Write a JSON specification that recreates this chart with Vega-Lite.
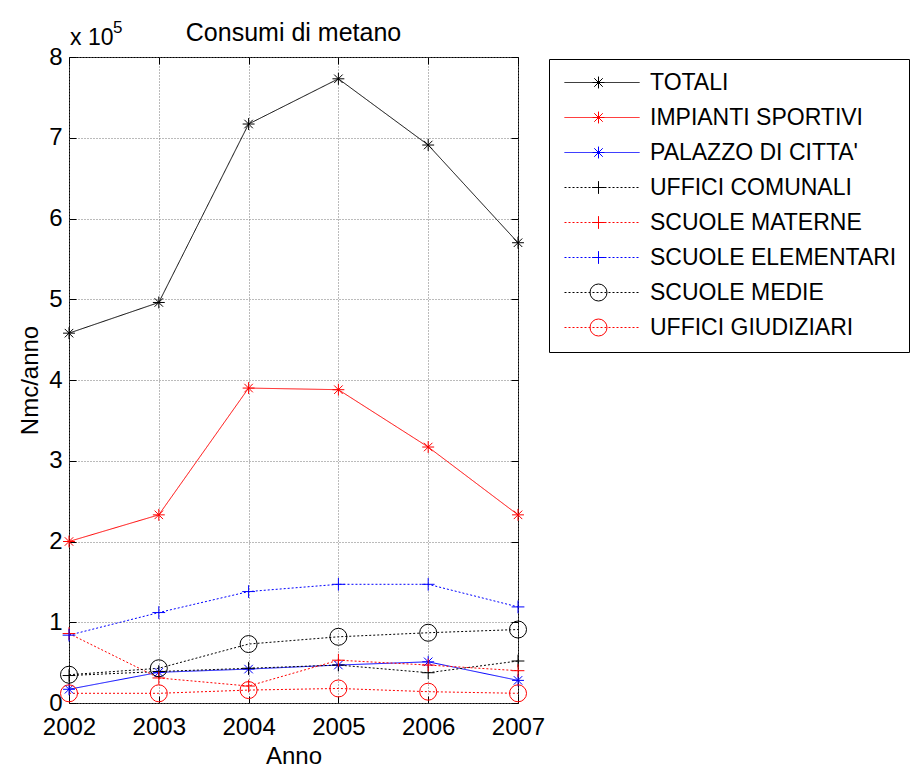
{
  "$schema": "https://vega.github.io/schema/vega-lite/v6.json",
  "width": 449,
  "height": 646,
  "autosize": {"type": "none"},
  "padding": {"left": 69, "top": 57, "right": 394, "bottom": 62},
  "background": "white",
  "title": {"text": "Consumi di metano", "fontSize": 25, "fontWeight": "normal", "anchor": "middle", "frame": "group", "baseline": "alphabetic", "offset": -47, "color": "black"},
  "config": {
    "font": "Liberation Sans",
    "view": {"stroke": "black", "strokeWidth": 1},
    "axis": {
      "domain": false,
      "labelFontSize": 24,
      "labelColor": "black",
      "labelFlush": false,
      "labelOverlap": false,
      "titleFontSize": 24,
      "titleFontWeight": "normal",
      "titleColor": "black",
      "tickColor": "black",
      "tickSize": -7,
      "gridColor": "#777777",
      "gridDash": [1, 2],
      "gridOpacity": 1,
      "gridWidth": 1
    }
  },
  "data": {
    "values": [
      {"serie": "TOTALI", "anno": 2002, "consumo": 458000},
      {"serie": "TOTALI", "anno": 2003, "consumo": 496000},
      {"serie": "TOTALI", "anno": 2004, "consumo": 717000},
      {"serie": "TOTALI", "anno": 2005, "consumo": 773000},
      {"serie": "TOTALI", "anno": 2006, "consumo": 691000},
      {"serie": "TOTALI", "anno": 2007, "consumo": 570000},
      {"serie": "IMPIANTI SPORTIVI", "anno": 2002, "consumo": 200000},
      {"serie": "IMPIANTI SPORTIVI", "anno": 2003, "consumo": 233000},
      {"serie": "IMPIANTI SPORTIVI", "anno": 2004, "consumo": 390000},
      {"serie": "IMPIANTI SPORTIVI", "anno": 2005, "consumo": 388000},
      {"serie": "IMPIANTI SPORTIVI", "anno": 2006, "consumo": 317000},
      {"serie": "IMPIANTI SPORTIVI", "anno": 2007, "consumo": 233000},
      {"serie": "PALAZZO DI CITTA'", "anno": 2002, "consumo": 17000},
      {"serie": "PALAZZO DI CITTA'", "anno": 2003, "consumo": 38000},
      {"serie": "PALAZZO DI CITTA'", "anno": 2004, "consumo": 42000},
      {"serie": "PALAZZO DI CITTA'", "anno": 2005, "consumo": 47000},
      {"serie": "PALAZZO DI CITTA'", "anno": 2006, "consumo": 51000},
      {"serie": "PALAZZO DI CITTA'", "anno": 2007, "consumo": 28000},
      {"serie": "UFFICI COMUNALI", "anno": 2002, "consumo": 34000},
      {"serie": "UFFICI COMUNALI", "anno": 2003, "consumo": 39000},
      {"serie": "UFFICI COMUNALI", "anno": 2004, "consumo": 43000},
      {"serie": "UFFICI COMUNALI", "anno": 2005, "consumo": 47000},
      {"serie": "UFFICI COMUNALI", "anno": 2006, "consumo": 37500},
      {"serie": "UFFICI COMUNALI", "anno": 2007, "consumo": 52000},
      {"serie": "SCUOLE MATERNE", "anno": 2002, "consumo": 86000},
      {"serie": "SCUOLE MATERNE", "anno": 2003, "consumo": 31000},
      {"serie": "SCUOLE MATERNE", "anno": 2004, "consumo": 21000},
      {"serie": "SCUOLE MATERNE", "anno": 2005, "consumo": 53000},
      {"serie": "SCUOLE MATERNE", "anno": 2006, "consumo": 47000},
      {"serie": "SCUOLE MATERNE", "anno": 2007, "consumo": 40000},
      {"serie": "SCUOLE ELEMENTARI", "anno": 2002, "consumo": 84000},
      {"serie": "SCUOLE ELEMENTARI", "anno": 2003, "consumo": 112000},
      {"serie": "SCUOLE ELEMENTARI", "anno": 2004, "consumo": 138000},
      {"serie": "SCUOLE ELEMENTARI", "anno": 2005, "consumo": 147000},
      {"serie": "SCUOLE ELEMENTARI", "anno": 2006, "consumo": 147000},
      {"serie": "SCUOLE ELEMENTARI", "anno": 2007, "consumo": 119000},
      {"serie": "SCUOLE MEDIE", "anno": 2002, "consumo": 35000},
      {"serie": "SCUOLE MEDIE", "anno": 2003, "consumo": 43000},
      {"serie": "SCUOLE MEDIE", "anno": 2004, "consumo": 73000},
      {"serie": "SCUOLE MEDIE", "anno": 2005, "consumo": 82000},
      {"serie": "SCUOLE MEDIE", "anno": 2006, "consumo": 87000},
      {"serie": "SCUOLE MEDIE", "anno": 2007, "consumo": 91000},
      {"serie": "UFFICI GIUDIZIARI", "anno": 2002, "consumo": 12000},
      {"serie": "UFFICI GIUDIZIARI", "anno": 2003, "consumo": 12000},
      {"serie": "UFFICI GIUDIZIARI", "anno": 2004, "consumo": 16000},
      {"serie": "UFFICI GIUDIZIARI", "anno": 2005, "consumo": 18000},
      {"serie": "UFFICI GIUDIZIARI", "anno": 2006, "consumo": 14000},
      {"serie": "UFFICI GIUDIZIARI", "anno": 2007, "consumo": 12000}
    ]
  },
  "layer": [
    {
      "mark": {"type": "line", "strokeWidth": 1},
      "encoding": {
        "x": {
          "field": "anno", "type": "quantitative",
          "scale": {"domain": [2002, 2007], "nice": false, "zero": false},
          "axis": {"orient": "bottom", "values": [2002, 2003, 2004, 2005, 2006, 2007], "format": "d", "title": "Anno", "grid": true, "labelPadding": 19, "titlePadding": 5}
        },
        "y": {
          "field": "consumo", "type": "quantitative",
          "scale": {"domain": [0, 800000], "nice": false},
          "axis": {"orient": "left", "values": [0, 100000, 200000, 300000, 400000, 500000, 600000, 700000, 800000], "labelExpr": "datum.value / 100000", "title": "Nmc/anno", "grid": true, "labelPadding": 14, "titlePadding": 6}
        },
        "color": {
          "field": "serie", "type": "nominal",
          "scale": {
            "domain": ["TOTALI", "IMPIANTI SPORTIVI", "PALAZZO DI CITTA'", "UFFICI COMUNALI", "SCUOLE MATERNE", "SCUOLE ELEMENTARI", "SCUOLE MEDIE", "UFFICI GIUDIZIARI"],
            "range": ["#000000", "#ff0000", "#0000ff", "#000000", "#ff0000", "#0000ff", "#000000", "#ff0000"]
          },
          "legend": {"title": null, "orient": "none", "legendX": 480, "legendY": 2, "symbolType": "M-7.5,0L7.5,0", "symbolSize": 100, "symbolStrokeWidth": 1, "labelFontSize": 23, "labelColor": "black", "labelLimit": 0, "padding": 12, "symbolOffset": 29.5, "labelOffset": 36.5, "rowPadding": 11, "strokeColor": "black", "fillColor": "white"}
        },
        "strokeDash": {
          "field": "serie", "type": "nominal",
          "scale": {
            "domain": ["TOTALI", "IMPIANTI SPORTIVI", "PALAZZO DI CITTA'", "UFFICI COMUNALI", "SCUOLE MATERNE", "SCUOLE ELEMENTARI", "SCUOLE MEDIE", "UFFICI GIUDIZIARI"],
            "range": [[1, 0], [1, 0], [1, 0], [2, 2], [2, 2], [2, 2], [2, 2], [2, 2]]
          },
          "legend": {"title": null, "orient": "none", "legendX": 480, "legendY": 2, "symbolType": "M-7.5,0L7.5,0", "symbolSize": 100, "symbolStrokeWidth": 1, "labelFontSize": 23, "labelColor": "black", "labelLimit": 0, "padding": 12, "symbolOffset": 29.5, "labelOffset": 36.5, "rowPadding": 11, "strokeColor": "black", "fillColor": "white"}
        }
      }
    },
    {
      "mark": {"type": "point", "filled": false, "strokeWidth": 1, "size": 289, "opacity": 1},
      "encoding": {
        "x": {
          "field": "anno", "type": "quantitative",
          "scale": {"domain": [2002, 2007], "nice": false, "zero": false},
          "axis": {"orient": "top", "values": [2002, 2003, 2004, 2005, 2006, 2007], "labels": false, "title": null, "grid": false}
        },
        "y": {
          "field": "consumo", "type": "quantitative",
          "scale": {"domain": [0, 800000], "nice": false},
          "axis": {"orient": "right", "values": [0, 100000, 200000, 300000, 400000, 500000, 600000, 700000, 800000], "labels": false, "title": null, "grid": false}
        },
        "color": {
          "field": "serie", "type": "nominal",
          "scale": {
            "domain": ["TOTALI", "IMPIANTI SPORTIVI", "PALAZZO DI CITTA'", "UFFICI COMUNALI", "SCUOLE MATERNE", "SCUOLE ELEMENTARI", "SCUOLE MEDIE", "UFFICI GIUDIZIARI"],
            "range": ["#000000", "#ff0000", "#0000ff", "#000000", "#ff0000", "#0000ff", "#000000", "#ff0000"]
          },
          "legend": {"title": null, "orient": "none", "legendX": 480, "legendY": 2, "symbolSize": 289, "symbolStrokeWidth": 1, "labelFontSize": 23, "labelColor": "transparent", "labelLimit": 0, "padding": 12, "symbolOffset": 26, "labelOffset": 36.5, "rowPadding": 11}
        },
        "shape": {
          "field": "serie", "type": "nominal",
          "scale": {
            "domain": ["TOTALI", "IMPIANTI SPORTIVI", "PALAZZO DI CITTA'", "UFFICI COMUNALI", "SCUOLE MATERNE", "SCUOLE ELEMENTARI", "SCUOLE MEDIE", "UFFICI GIUDIZIARI"],
            "range": [
              "M-0.7,0L0.7,0M0,-0.7L0,0.7M-0.5,-0.5L0.5,0.5M-0.5,0.5L0.5,-0.5",
              "M-0.7,0L0.7,0M0,-0.7L0,0.7M-0.5,-0.5L0.5,0.5M-0.5,0.5L0.5,-0.5",
              "M-0.7,0L0.7,0M0,-0.7L0,0.7M-0.5,-0.5L0.5,0.5M-0.5,0.5L0.5,-0.5",
              "M-0.75,0L0.75,0M0,-0.75L0,0.75",
              "M-0.75,0L0.75,0M0,-0.75L0,0.75",
              "M-0.75,0L0.75,0M0,-0.75L0,0.75",
              "circle",
              "circle"
            ]
          },
          "legend": {"title": null, "orient": "none", "legendX": 480, "legendY": 2, "symbolSize": 289, "symbolStrokeWidth": 1, "labelFontSize": 23, "labelColor": "transparent", "labelLimit": 0, "padding": 12, "symbolOffset": 26, "labelOffset": 36.5, "rowPadding": 11}
        }
      }
    },
    {
      "data": {"values": [{"testo": "x 10"}]},
      "mark": {"type": "text", "align": "left", "baseline": "alphabetic", "dx": 1, "dy": -12, "fontSize": 23, "color": "black"},
      "encoding": {
        "x": {"datum": 2002, "type": "quantitative", "axis": null},
        "y": {"datum": 800000, "type": "quantitative", "axis": null},
        "text": {"field": "testo"}
      }
    },
    {
      "data": {"values": [{"testo": "5"}]},
      "mark": {"type": "text", "align": "left", "baseline": "alphabetic", "dx": 44, "dy": -24, "fontSize": 17, "color": "black"},
      "encoding": {
        "x": {"datum": 2002, "type": "quantitative", "axis": null},
        "y": {"datum": 800000, "type": "quantitative", "axis": null},
        "text": {"field": "testo"}
      }
    }
  ],
  "resolve": {
    "scale": {"color": "independent", "strokeDash": "independent", "shape": "independent"},
    "axis": {"x": "independent", "y": "independent"}
  }
}
